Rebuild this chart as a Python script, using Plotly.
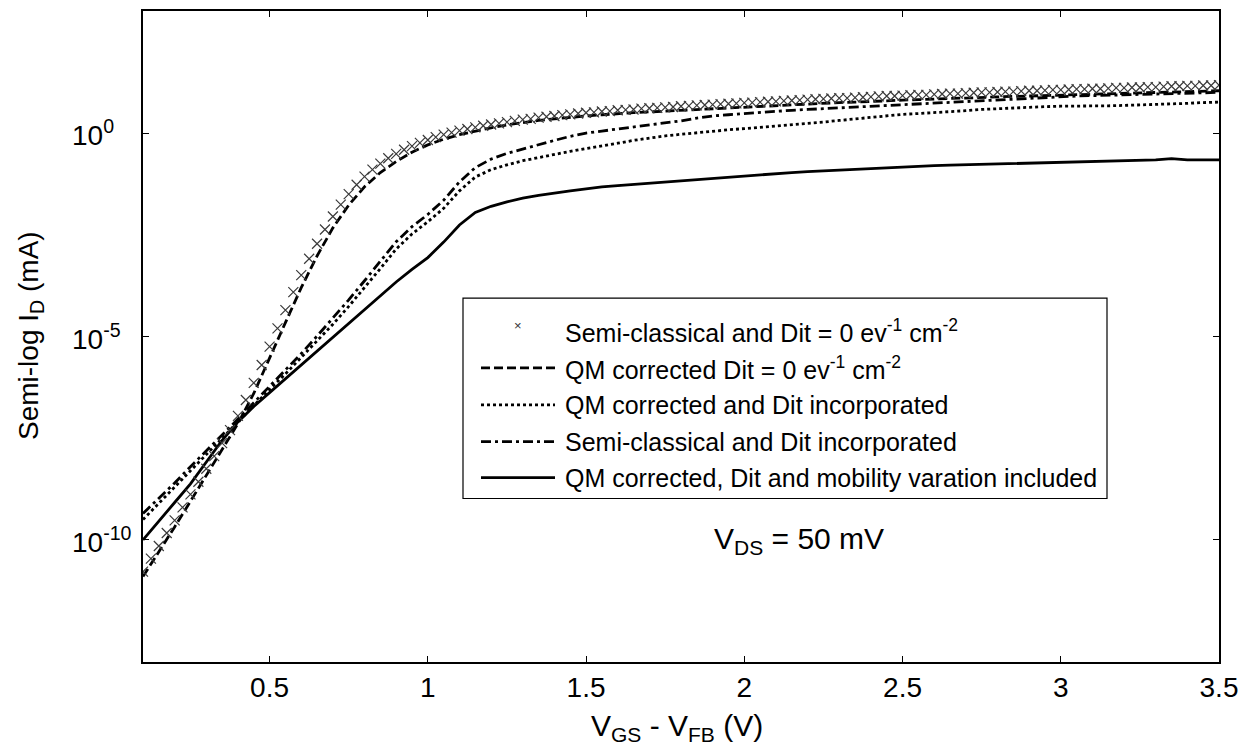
import numpy as np
import plotly.graph_objects as go

# ---------------- data (log10 of I_D in mA) ----------------
VGS_FINE = np.round(np.linspace(0.1, 3.5, 137), 3)   # sample grid of the marker series
VGS = np.round(np.linspace(0.1, 3.5, 69), 3)          # sample grid of the line series

LOG_SEMI_NODIT = [
    -10.78, -10.46, -10.15, -9.83, -9.52, -9.20, -8.88, -8.57, -8.25, -7.94,
    -7.62, -7.30, -6.95, -6.56, -6.14, -5.70, -5.25, -4.80, -4.35, -3.91,
    -3.49, -3.09, -2.72, -2.37, -2.05, -1.76, -1.50, -1.27, -1.07, -0.90,
    -0.75, -0.62, -0.51, -0.41, -0.32, -0.24, -0.17, -0.10, -0.04, 0.01,
    0.06, 0.10, 0.14, 0.18, 0.21, 0.24, 0.27, 0.30, 0.33, 0.35,
    0.38, 0.40, 0.42, 0.44, 0.46, 0.48, 0.50, 0.51, 0.53, 0.54,
    0.56, 0.57, 0.58, 0.60, 0.61, 0.62, 0.63, 0.64, 0.66, 0.67,
    0.68, 0.69, 0.70, 0.71, 0.72, 0.73, 0.74, 0.75, 0.76, 0.77,
    0.78, 0.79, 0.80, 0.81, 0.82, 0.83, 0.84, 0.85, 0.86, 0.86,
    0.87, 0.88, 0.89, 0.90, 0.91, 0.91, 0.92, 0.93, 0.94, 0.94,
    0.95, 0.96, 0.97, 0.97, 0.98, 0.99, 1.00, 1.00, 1.01, 1.02,
    1.02, 1.03, 1.04, 1.04, 1.05, 1.06, 1.06, 1.07, 1.08, 1.08,
    1.09, 1.09, 1.10, 1.11, 1.11, 1.12, 1.12, 1.13, 1.13, 1.14,
    1.15, 1.15, 1.16, 1.16, 1.17, 1.17, 1.18,
]

LOG_QM_NODIT = [
    -10.90, -10.30, -9.68, -9.05, -8.42, -7.78, -7.14, -6.40, -5.55, -4.66,
    -3.80, -3.02, -2.33, -1.77, -1.32, -0.97, -0.70, -0.47, -0.29, -0.15,
    -0.04, 0.05, 0.13, 0.20, 0.26, 0.31, 0.35, 0.39, 0.42, 0.45,
    0.48, 0.50, 0.52, 0.54, 0.56, 0.58, 0.60, 0.62, 0.64, 0.66,
    0.68, 0.70, 0.72, 0.73, 0.75, 0.76, 0.78, 0.79, 0.81, 0.82,
    0.84, 0.85, 0.86, 0.88, 0.89, 0.90, 0.91, 0.92, 0.94, 0.95,
    0.96, 0.97, 0.98, 0.99, 1.00, 1.01, 1.02, 1.03, 1.04,
]

LOG_QM_DIT = [
    -9.50, -9.10, -8.70, -8.30, -7.90, -7.50, -7.08, -6.68, -6.30, -5.92,
    -5.52, -5.12, -4.70, -4.26, -3.80, -3.33, -2.85, -2.48, -2.18, -1.85,
    -1.42, -1.08, -0.90, -0.78, -0.68, -0.60, -0.52, -0.45, -0.38, -0.32,
    -0.25, -0.18, -0.12, -0.07, -0.03, 0.01, 0.05, 0.08, 0.11, 0.14,
    0.17, 0.20, 0.23, 0.27, 0.31, 0.35, 0.39, 0.43, 0.46, 0.48,
    0.50, 0.52, 0.55, 0.58, 0.60, 0.62, 0.64, 0.65, 0.66, 0.66,
    0.67, 0.67, 0.68, 0.69, 0.70, 0.71, 0.73, 0.75, 0.76,
]

LOG_SEMI_DIT = [
    -9.35, -8.98, -8.60, -8.20, -7.80, -7.42, -7.03, -6.63, -6.24, -5.84,
    -5.42, -4.99, -4.55, -4.10, -3.63, -3.15, -2.67, -2.30, -2.00, -1.65,
    -1.20, -0.85, -0.64, -0.50, -0.39, -0.28, -0.18, -0.08, 0.00, 0.05,
    0.10, 0.15, 0.20, 0.25, 0.30, 0.37, 0.42, 0.45, 0.48, 0.51,
    0.54, 0.56, 0.58, 0.60, 0.62, 0.64, 0.66, 0.68, 0.70, 0.72,
    0.74, 0.76, 0.78, 0.80, 0.82, 0.84, 0.86, 0.88, 0.90, 0.91,
    0.92, 0.93, 0.94, 0.95, 0.96, 0.97, 0.98, 0.99, 1.00,
]

LOG_QM_DIT_MOB = [
    -10.00, -9.55, -9.08, -8.62, -8.10, -7.55, -7.10, -6.72, -6.38, -6.04,
    -5.70, -5.36, -5.02, -4.68, -4.34, -4.00, -3.66, -3.35, -3.06, -2.68,
    -2.26, -1.95, -1.80, -1.69, -1.60, -1.53, -1.47, -1.42, -1.37, -1.32,
    -1.29, -1.26, -1.23, -1.20, -1.17, -1.14, -1.11, -1.08, -1.06, -1.03,
    -1.00, -0.97, -0.95, -0.93, -0.91, -0.89, -0.87, -0.86, -0.84, -0.82,
    -0.80, -0.79, -0.78, -0.77, -0.76, -0.75, -0.74, -0.73, -0.72, -0.71,
    -0.70, -0.69, -0.68, -0.67, -0.66, -0.63, -0.66, -0.66, -0.66,
]

X_TICKS = [0.5, 1, 1.5, 2, 2.5, 3, 3.5]
X_TICK_TEXT = ["0.5", "1", "1.5", "2", "2.5", "3", "3.5"]
Y_TICKS = [1e-10, 1e-5, 1e0]
Y_TICK_TEXT = ["10<sup>-10</sup>", "10<sup>-5</sup>", "10<sup>0</sup>"]

LEGEND_LABELS = [
    "Semi-classical and Dit = 0 ev<sup>-1</sup> cm<sup>-2</sup>",
    "QM corrected Dit = 0 ev<sup>-1</sup> cm<sup>-2</sup>",
    "QM corrected and Dit incorporated",
    "Semi-classical and Dit incorporated",
    "QM corrected, Dit and mobility varation included",
]

# ---------------- styling ----------------
FONT = "Liberation Sans, Arial, sans-serif"
W, H = 1249, 753
L, R, T, B = 143, 1219, 9, 662   # plot-area pixel box

def px(x):
    return (x - L) / (R - L)

def py(y):
    return (B - y) / (B - T)

LW = 2.8
DASH = "9px,4px"
DOT = "3px,3px"
DASHDOT = "10px,4px,3px,4px"

fig = go.Figure()

fig.add_trace(go.Scatter(x=VGS, y=10 ** np.array(LOG_QM_DIT_MOB), mode="lines",
                         line=dict(color="black", width=LW), showlegend=False))
fig.add_trace(go.Scatter(x=VGS, y=10 ** np.array(LOG_QM_DIT), mode="lines",
                         line=dict(color="black", width=LW, dash=DOT), showlegend=False))
fig.add_trace(go.Scatter(x=VGS, y=10 ** np.array(LOG_SEMI_DIT), mode="lines",
                         line=dict(color="black", width=LW, dash=DASHDOT), showlegend=False))
fig.add_trace(go.Scatter(x=VGS, y=10 ** np.array(LOG_QM_NODIT), mode="lines",
                         line=dict(color="black", width=LW, dash=DASH), showlegend=False))
fig.add_trace(go.Scatter(x=VGS_FINE, y=10 ** np.array(LOG_SEMI_NODIT), mode="markers",
                         marker=dict(symbol="x-thin", size=10, color="#3a3a3a",
                                     line=dict(width=1.2, color="#3a3a3a")),
                         showlegend=False))

annotations = []
shapes = []

# y tick labels (left aligned like the original)
for v, t in zip(Y_TICKS, Y_TICK_TEXT):
    annotations.append(dict(x=px(70), xref="paper", y=np.log10(v), yref="y",
                            text=t, showarrow=False, xanchor="left", yanchor="middle",
                            font=dict(family=FONT, size=28, color="black")))

# axis titles
annotations.append(dict(x=px(677), xref="paper", y=py(728), yref="paper",
                        text="V<sub>GS</sub> - V<sub>FB</sub> (V)", showarrow=False,
                        xanchor="center", yanchor="middle",
                        font=dict(family=FONT, size=30, color="black")))
annotations.append(dict(x=px(30), xref="paper", y=py(335), yref="paper",
                        text="Semi-log I<sub>D</sub> (mA)", showarrow=False, textangle=-90,
                        xanchor="center", yanchor="middle",
                        font=dict(family=FONT, size=28, color="black")))
# V_DS note
annotations.append(dict(x=px(712), xref="paper", y=py(540), yref="paper",
                        text="V<sub>DS</sub> = 50 mV", showarrow=False,
                        xanchor="left", yanchor="middle",
                        font=dict(family=FONT, size=30, color="black")))

# custom legend
LEG_L, LEG_R, LEG_T, LEG_B = 463, 1107, 297, 498
shapes.append(dict(type="rect", xref="paper", yref="paper",
                   x0=px(LEG_L), x1=px(LEG_R), y0=py(LEG_B), y1=py(LEG_T),
                   line=dict(color="black", width=1.2), fillcolor="white", layer="above"))
rows = [330, 367, 404, 441, 477]
dashes = [None, DASH, DOT, DASHDOT, "solid"]
for i, (lab, d) in enumerate(zip(LEGEND_LABELS, dashes)):
    yy = rows[i]
    annotations.append(dict(x=px(563), xref="paper", y=py(yy), yref="paper",
                            text=lab, showarrow=False, xanchor="left", yanchor="middle",
                            font=dict(family=FONT, size=25, color="black")))
    if d is None:
        annotations.append(dict(x=px(518), xref="paper", y=py(yy - 6), yref="paper",
                                text="×", showarrow=False, xanchor="center", yanchor="middle",
                                font=dict(family=FONT, size=13, color="#333333")))
    else:
        shapes.append(dict(type="line", xref="paper", yref="paper",
                           x0=px(481), x1=px(555), y0=py(yy), y1=py(yy),
                           line=dict(color="black", width=LW, dash=d), layer="above"))

fig.update_layout(
    width=W, height=H,
    margin=dict(l=L, r=W - R, t=T, b=H - B),
    paper_bgcolor="white", plot_bgcolor="white",
    showlegend=False,
    font=dict(family=FONT, size=28, color="black"),
    annotations=annotations, shapes=shapes,
)
fig.update_xaxes(range=[0.1, 3.5], tickvals=X_TICKS, ticktext=X_TICK_TEXT,
                 ticks="inside", ticklen=6, tickwidth=1, tickcolor="black",
                 showline=True, linecolor="black", linewidth=1.5, mirror="ticks",
                 showgrid=False, zeroline=False,
                 tickfont=dict(family=FONT, size=28, color="black"))
fig.update_yaxes(type="log", range=[-13, 3], tickvals=Y_TICKS, showticklabels=False,
                 ticks="inside", ticklen=6, tickwidth=1, tickcolor="black",
                 showline=True, linecolor="black", linewidth=1.5, mirror="ticks",
                 showgrid=False, zeroline=False)

fig.write_html("out.html")
